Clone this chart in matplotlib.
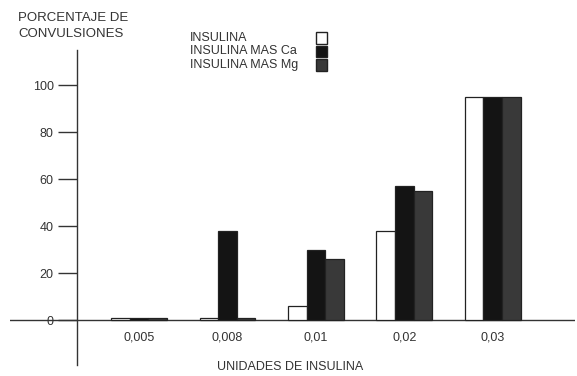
import numpy as np
import matplotlib.pyplot as plt
from matplotlib.patches import Rectangle

plt.rcParams['font.family'] = ['Liberation Sans Narrow', 'Liberation Sans', 'DejaVu Sans']

# Datos
dosis = ['0,005', '0,008', '0,01', '0,02', '0,03']
insulina = [1, 1, 6, 38, 95]
insulina_ca = [1, 38, 30, 57, 95]
insulina_mg = [1, 1, 26, 55, 95]
series = ['INSULINA', 'INSULINA MAS Ca', 'INSULINA MAS Mg']
y_ticks = [0, 20, 40, 60, 80, 100]

colores = ['white', '#141414', '#393939']
gris = '#333333'
x = np.arange(len(dosis))
w = 0.21

fig = plt.figure(figsize=(5.77, 3.76), dpi=100)
ax = fig.add_axes([10 / 577, 11 / 376, 565 / 577, 315 / 376])

for i, (vals, c) in enumerate(zip([insulina, insulina_ca, insulina_mg], colores)):
    ax.bar(x + (i - 1) * w, vals, w, color=c, edgecolor='#222222', linewidth=0.9, zorder=2)

ax.set_xlim(-1.46, 4.93)
ax.set_ylim(-19, 115)

for s in ['top', 'right', 'bottom']:
    ax.spines[s].set_visible(False)
ax.spines['left'].set_position(('data', -0.70))
ax.spines['left'].set_color(gris)
ax.spines['left'].set_linewidth(1.0)
ax.axhline(0, color=gris, linewidth=1.0, zorder=1)

ax.set_yticks(y_ticks)
ax.set_yticklabels([str(v) for v in y_ticks])
ax.tick_params(axis='y', length=14, width=1.0, color=gris, labelsize=9, pad=3, labelcolor=gris)
ax.set_xticks([])
for t, lab in zip(x, dosis):
    ax.text(t, -7.5, lab, ha='center', va='center', fontsize=9, color=gris)

fig.text(290 / 577, 1 - 367 / 376, 'UNIDADES DE INSULINA', ha='center', va='center',
         fontsize=9, color=gris)
fig.text(18 / 577, 1 - 26 / 376, 'PORCENTAJE DE\nCONVULSIONES', ha='left', va='center',
         fontsize=9.5, color=gris, linespacing=1.5, multialignment='left')

# leyenda manual: texto a la izquierda, cuadros alineados a la derecha
for k, (nombre, c) in enumerate(zip(series, colores)):
    yc = 1 - (38 + 13.5 * k) / 376
    fig.text(190 / 577, yc, nombre, ha='left', va='center', fontsize=9, color=gris)
    fig.add_artist(Rectangle((316 / 577, yc - 5.5 / 376), 11 / 577, 11 / 376,
                             transform=fig.transFigure, facecolor=c,
                             edgecolor='#222222', linewidth=1.0))

fig.savefig('out.png', dpi=100)
